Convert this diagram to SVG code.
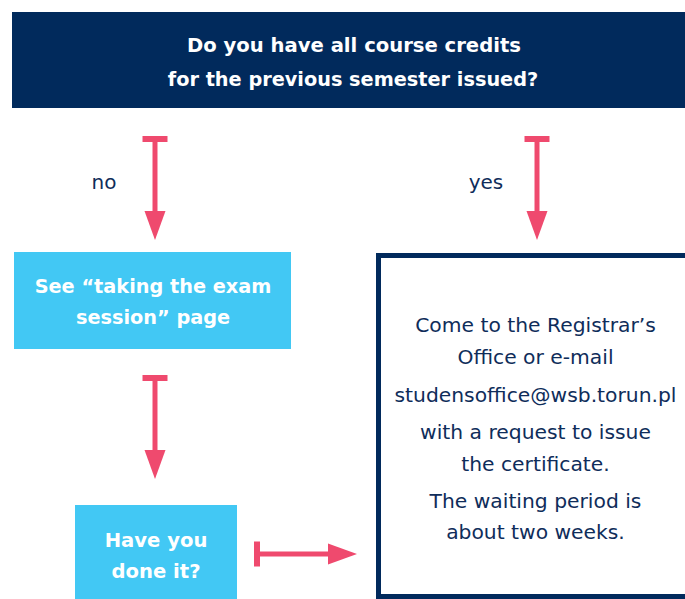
<svg xmlns="http://www.w3.org/2000/svg" width="685" height="599" viewBox="0 0 685 599">
<defs>
<style>
.bold{font-family:"DejaVu Sans","Liberation Sans",sans-serif;font-weight:700;fill:#ffffff;text-anchor:middle}
.reg{font-family:"DejaVu Sans","Liberation Sans",sans-serif;font-weight:400;fill:#0f2d5a;text-anchor:middle}
.conn{stroke:#ef4a6e;stroke-width:5;fill:none;marker-start:url(#bar);marker-end:url(#head)}
</style>
<marker id="head" markerUnits="userSpaceOnUse" orient="auto" overflow="visible" markerWidth="30" markerHeight="22" refX="2" refY="0">
<path d="M0,-10.5 L29,0 L0,10.5 Z" fill="#ef4a6e"/>
</marker>
<marker id="bar" markerUnits="userSpaceOnUse" orient="auto" overflow="visible" markerWidth="6" markerHeight="26" refX="0" refY="0">
<rect x="0" y="-12.5" width="6" height="25" fill="#ef4a6e"/>
</marker>
</defs>
<rect width="685" height="599" fill="#ffffff"/>
<g id="question">
<rect x="12" y="12" width="673" height="96" fill="#012a5c"/>
<text class="bold" x="354" y="52" font-size="19.6">Do you have all course credits</text>
<text class="bold" x="353" y="86" font-size="19.3">for the previous semester issued?</text>
</g>
<g id="labels">
<text class="reg" x="104" y="189" font-size="20">no</text>
<text class="reg" x="486" y="189" font-size="20">yes</text>
</g>
<g id="see-page">
<rect x="14" y="252" width="277" height="97" fill="#42c8f4"/>
<text class="bold" x="153" y="293" font-size="19.3">See “taking the exam</text>
<text class="bold" x="153" y="324" font-size="19.3">session” page</text>
</g>
<g id="done-it">
<rect x="75" y="505" width="162" height="94" fill="#42c8f4"/>
<text class="bold" x="156" y="547" font-size="19.6">Have you</text>
<text class="bold" x="156" y="578" font-size="19.6">done it?</text>
</g>
<g id="registrar">
<path d="M688,255.5 H378.5 V596.5 H688" fill="#ffffff" stroke="#012a5c" stroke-width="5"/>
<text class="reg" x="535.5" y="332" font-size="20.3">Come to the Registrar’s</text>
<text class="reg" x="535.5" y="364" font-size="20.3">Office or e-mail</text>
<text class="reg" x="535.5" y="402" font-size="20.3">studensoffice@wsb.torun.pl</text>
<text class="reg" x="535.5" y="439" font-size="20.3">with a request to issue</text>
<text class="reg" x="535.5" y="471" font-size="20.3">the certificate.</text>
<text class="reg" x="535.5" y="508" font-size="20.3">The waiting period is</text>
<text class="reg" x="535.5" y="539" font-size="20.3">about two weeks.</text>
</g>
<g id="connectors">
<line class="conn" x1="155" y1="136" x2="155" y2="213"/>
<line class="conn" x1="537" y1="136" x2="537" y2="213"/>
<line class="conn" x1="155" y1="375" x2="155" y2="452"/>
<line class="conn" x1="254" y1="554" x2="330" y2="554"/>
</g>
</svg>
